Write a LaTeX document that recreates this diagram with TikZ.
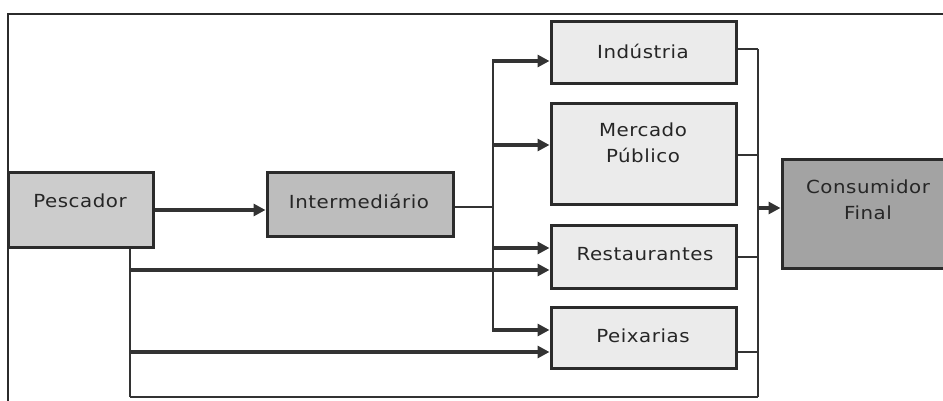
\documentclass[tikz,border=0pt]{standalone}
\usepackage{fontspec}
\setmainfont{DejaVu Sans}[FakeStretch=1.1,LetterSpace=3]
\usetikzlibrary{arrows.meta}
\definecolor{edge}{gray}{0.17}
\definecolor{lineC}{gray}{0.2}
\definecolor{fillPes}{gray}{0.80}
\definecolor{fillInt}{gray}{0.74}
\definecolor{fillCon}{gray}{0.64}
\definecolor{fillLight}{gray}{0.92}
\tikzset{
  box/.style={draw=edge,line width=3pt,inner sep=0pt,rectangle},
  lbl/.style={font=\fontsize{18}{26}\selectfont,text=black!85,align=center,inner sep=0pt},
  thickarr/.style={draw=lineC,line width=4pt,-{Triangle[length=12pt,width=12pt]}},
  medarr/.style={draw=lineC,line width=3.2pt,-{Triangle[length=12pt,width=12pt]}},
  thinline/.style={draw=lineC,line width=1.6pt},
  frameline/.style={draw=edge,line width=1.6pt}
}
\begin{document}
\begin{tikzpicture}[x=1pt,y=-1pt]
\useasboundingbox (0,0) rectangle (943,401);
% frame
\coordinate (fa) at (8,401);
\coordinate (fb) at (8,14);
\coordinate (fc) at (943,14);
\draw[frameline] (fa) -- (fb) -- (fc);
% boxes
\node[box,fill=fillPes,minimum width=145pt,minimum height=74pt] (pes) at (80.5,210) {};
\node[box,fill=fillInt,minimum width=186pt,minimum height=63pt] (int) at (360,204.5) {};
\node[box,fill=fillLight,minimum width=185pt,minimum height=62pt] (ind) at (643.5,53) {};
\node[box,fill=fillLight,minimum width=185pt,minimum height=101pt] (mer) at (643.5,154.5) {};
\node[box,fill=fillLight,minimum width=185pt,minimum height=63pt] (res) at (643.5,256.5) {};
\node[box,fill=fillLight,minimum width=185pt,minimum height=61pt] (pei) at (643.5,337.5) {};
\node[box,fill=fillCon,minimum width=173pt,minimum height=108pt] (con) at (868.5,214) {};
% labels
\node[lbl] (tpes) at (80,201) {Pescador};
\node[lbl] (tint) at (359,201) {Intermediário};
\node[lbl] (tind) at (643,51) {Indústria};
\node[lbl] (tmer) at (643,143) {Mercado\\Público};
\node[lbl] (tres) at (645,254) {Restaurantes};
\node[lbl] (tpei) at (643,336) {Peixarias};
\node[lbl] (tcon) at (868,200) {Consumidor\\Final};
% Pescador -> Intermediario
\draw[thickarr] (pes.east) -- (int.west |- pes.east);
% Pescador direct lines
\coordinate (pd) at (130,397);
\coordinate (h1) at (130,270);
\coordinate (h2) at (130,352);
\coordinate (cb) at (758,397);
\draw[draw=lineC,line width=2.4pt] (pd |- pes.south) -- (pd);
\draw[thinline] (pd) -- (cb);
\draw[thickarr] (h1) -- (res.west |- h1);
\draw[thickarr] (h2) -- (pei.west |- h2);
% Intermediario branch
\coordinate (bi) at (493,207);
\coordinate (b1) at (493,61);
\coordinate (b2) at (493,145);
\coordinate (b3) at (493,248);
\coordinate (b4) at (493,330);
\draw[thinline] (int.east |- bi) -- (bi);
\draw[draw=lineC,line width=2pt] (b1) -- (b4);
\draw[medarr] ([xshift=-1pt]b1) -- (ind.west |- b1);
\draw[medarr] ([xshift=-1pt]b2) -- (mer.west |- b2);
\draw[medarr] ([xshift=-1pt]b3) -- (res.west |- b3);
\draw[medarr] ([xshift=-1pt]b4) -- (pei.west |- b4);
% collector
\coordinate (c1) at (758,49);
\coordinate (c2) at (758,155);
\coordinate (c3) at (758,257);
\coordinate (c4) at (758,352);
\coordinate (c0) at (758,208);
\draw[thinline] (ind.east |- c1) -- (c1);
\draw[thinline] (mer.east |- c2) -- (c2);
\draw[thinline] (res.east |- c3) -- (c3);
\draw[thinline] (pei.east |- c4) -- (c4);
\draw[thinline] (c1) -- (cb);
\draw[medarr] (c0) -- (con.west |- c0);
\end{tikzpicture}
\end{document}
